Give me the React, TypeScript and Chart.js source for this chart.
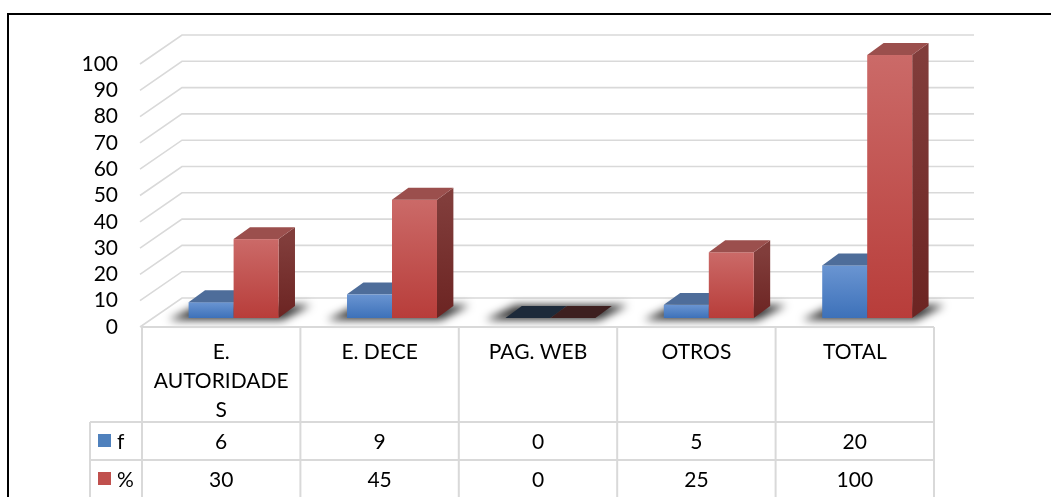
import React, { useEffect, useRef } from "react";
import { Chart, registerables } from "chart.js";

Chart.register(...registerables);

// ---------------- data ----------------
const categories: string[][] = [["E.", "AUTORIDADE", "S"], ["E. DECE"], ["PAG. WEB"], ["OTROS"], ["TOTAL"]];
const seriesNames = ["f", "%"];
const fValues = [6, 9, 0, 5, 20];
const pctValues = [30, 45, 0, 25, 100];
const yMin = 0;
const yMax = 100;
const yStep = 10;

// ---------------- style ----------------
const FONT = "Lato, 'Open Sans', 'DejaVu Sans', sans-serif";
const FONT_SIZE = 21;
const GRID_COLOR = "#d9d9d9";
const DEPTH_X = 40;
const DEPTH_Y = -29;
const BAR_F0 = 0.31;
const BAR_F1 = 0.72;
const HEADER_H = 95;
const ROW_H = 38;
const LEGEND_W = 52;

const palettes = [
  { front: ["#6a95d2", "#3d71b9"], top: "#4e6d9a", side: ["#3b5b8a", "#2c4a78"], zeroTop: "#1d2a3a", key: "#4f81bd" },
  { front: ["#cb6a68", "#b83d3a"], top: "#9b4f4d", side: ["#813d3b", "#6c2422"], zeroTop: "#3d1f1f", key: "#c0504d" },
];

const excel3d = {
  id: "excel3d",
  beforeDatasetsDraw(chart: any) {
    const { ctx, chartArea, scales } = chart;
    const y = scales.y;
    ctx.save();
    // gridlines (wall + floor diagonal)
    ctx.strokeStyle = GRID_COLOR;
    ctx.lineWidth = 1.6;
    y.ticks.forEach((t: any) => {
      const py = y.getPixelForValue(t.value);
      ctx.beginPath();
      ctx.moveTo(chartArea.left - 2, py);
      ctx.lineTo(chartArea.left + DEPTH_X, py + DEPTH_Y);
      ctx.lineTo(chartArea.right + DEPTH_X, py + DEPTH_Y);
      ctx.stroke();
    });

    const ox0 = DEPTH_X * BAR_F0;
    const oy0 = DEPTH_Y * BAR_F0;
    const sx = DEPTH_X * (BAR_F1 - BAR_F0);
    const sy = DEPTH_Y * (BAR_F1 - BAR_F0);
    const metas = [chart.getDatasetMeta(0), chart.getDatasetMeta(1)];
    const n = categories.length;

    // shadows
    for (let j = 0; j < n; j++) {
      const a = metas[0].data[j].getProps(["x", "y", "base", "width"], true);
      const b = metas[1].data[j].getProps(["x", "y", "base", "width"], true);
      const L = a.x - a.width / 2 + ox0;
      const R = b.x + b.width / 2 + ox0;
      const yb = a.base + oy0;
      ctx.save();
      ctx.filter = "blur(4px)";
      ctx.fillStyle = "rgba(0,0,0,0.8)";
      ctx.beginPath();
      ctx.moveTo(L - 20, yb + 2);
      ctx.lineTo(R + 4, yb + 2);
      ctx.lineTo(R + sx + 16, yb + sy - 1);
      ctx.lineTo(L + sx - 6, yb + sy - 1);
      ctx.closePath();
      ctx.fill();
      ctx.restore();
    }

    // bars
    for (let j = 0; j < n; j++) {
      for (let i = 0; i < 2; i++) {
        const p = palettes[i];
        const el = metas[i].data[j].getProps(["x", "y", "base", "width"], true);
        const left = el.x - el.width / 2 + ox0;
        const right = el.x + el.width / 2 + ox0;
        const top = el.y + oy0;
        const bot = el.base + oy0;
        const h = bot - top;
        if (h > 0.5) {
          // side
          const gs = ctx.createLinearGradient(0, top, 0, bot);
          gs.addColorStop(0, p.side[0]);
          gs.addColorStop(1, p.side[1]);
          ctx.fillStyle = gs;
          ctx.beginPath();
          ctx.moveTo(right, top);
          ctx.lineTo(right + sx, top + sy);
          ctx.lineTo(right + sx, bot + sy);
          ctx.lineTo(right, bot);
          ctx.closePath();
          ctx.fill();
          // front
          const gf = ctx.createLinearGradient(0, top, 0, bot);
          gf.addColorStop(0, p.front[0]);
          gf.addColorStop(1, p.front[1]);
          ctx.fillStyle = gf;
          ctx.fillRect(left, top, right - left, h);
        }
        // top
        ctx.fillStyle = h > 0.5 ? p.top : p.zeroTop;
        ctx.beginPath();
        ctx.moveTo(left, top);
        ctx.lineTo(right, top);
        ctx.lineTo(right + sx, top + sy);
        ctx.lineTo(left + sx, top + sy);
        ctx.closePath();
        ctx.fill();
      }
    }
    ctx.restore();
  },
  afterDraw(chart: any) {
    const { ctx, chartArea, scales } = chart;
    const x = scales.x;
    const n = categories.length;
    const colW = x.getPixelForValue(1) - x.getPixelForValue(0);
    const left = x.getPixelForValue(0) - colW / 2;
    const right = x.getPixelForValue(n - 1) + colW / 2;
    const top = chartArea.bottom;
    const r1 = top + HEADER_H;
    const r2 = r1 + ROW_H;
    const r3 = r2 + ROW_H;
    const lLeft = left - LEGEND_W;
    ctx.save();
    ctx.strokeStyle = GRID_COLOR;
    ctx.lineWidth = 2;
    ctx.beginPath();
    ctx.moveTo(left, top);
    ctx.lineTo(right, top);
    [r1, r2, r3].forEach((ry) => {
      ctx.moveTo(lLeft, ry);
      ctx.lineTo(right, ry);
    });
    for (let j = 0; j <= n; j++) {
      const cx = left + j * colW;
      ctx.moveTo(cx, top);
      ctx.lineTo(cx, r3);
    }
    ctx.moveTo(lLeft, r1);
    ctx.lineTo(lLeft, r3);
    ctx.stroke();

    ctx.fillStyle = "#000";
    ctx.font = `${FONT_SIZE}px ${FONT}`;
    ctx.textAlign = "center";
    ctx.textBaseline = "middle";
    for (let j = 0; j < n; j++) {
      const cx = x.getPixelForValue(j);
      categories[j].forEach((line, k) => {
        ctx.fillText(line, cx, top + 25 + k * 29);
      });
      ctx.fillText(String(fValues[j]), cx, r1 + ROW_H / 2 + 1);
      ctx.fillText(String(pctValues[j]), cx, r2 + ROW_H / 2 + 1);
    }
    // legend keys
    const rowsY = [r1 + ROW_H / 2, r2 + ROW_H / 2];
    rowsY.forEach((cy, i) => {
      ctx.fillStyle = palettes[i].key;
      ctx.fillRect(lLeft + 8, cy - 7, 13, 13);
      ctx.fillStyle = "#000";
      ctx.textAlign = "left";
      ctx.fillText(seriesNames[i], lLeft + 27, cy + 1);
    });

    // outer frame
    ctx.strokeStyle = "#000";
    ctx.lineWidth = 2;
    ctx.strokeRect(8, 14, 1200, 800);
    ctx.restore();
  },
};

export default function App() {
  const ref = useRef<HTMLCanvasElement | null>(null);
  useEffect(() => {
    if (!ref.current) return;
    const chart = new Chart(ref.current, {
      type: "bar",
      data: {
        labels: categories.map((c) => c.join(" ")),
        datasets: [
          { label: seriesNames[0], data: fValues, backgroundColor: "rgba(0,0,0,0)", borderWidth: 0 },
          { label: seriesNames[1], data: pctValues, backgroundColor: "rgba(0,0,0,0)", borderWidth: 0 },
        ],
      },
      options: {
        animation: false,
        responsive: false,
        events: [],
        layout: { padding: { left: 0, right: 117, top: 64, bottom: 170 } },
        datasets: { bar: { categoryPercentage: 0.568, barPercentage: 1 } },
        plugins: { legend: { display: false }, tooltip: { enabled: false }, title: { display: false } },
        scales: {
          x: { display: false, offset: true },
          y: {
            min: yMin,
            max: yMax,
            grid: { display: false, drawTicks: false },
            border: { display: false },
            ticks: {
              stepSize: yStep,
              autoSkip: false,
              padding: 24,
              color: "#000",
              font: { family: FONT, size: FONT_SIZE },
            },
            afterFit: (scale: any) => {
              scale.width = 142;
            },
          },
        },
      },
      plugins: [excel3d],
    });
    return () => chart.destroy();
  }, []);
  return (
    <div style={{ position: "absolute", left: 0, top: 0, width: 1051, height: 497, background: "#fff" }}>
      <canvas ref={ref} width={1051} height={497} style={{ display: "block" }} />
    </div>
  );
}
